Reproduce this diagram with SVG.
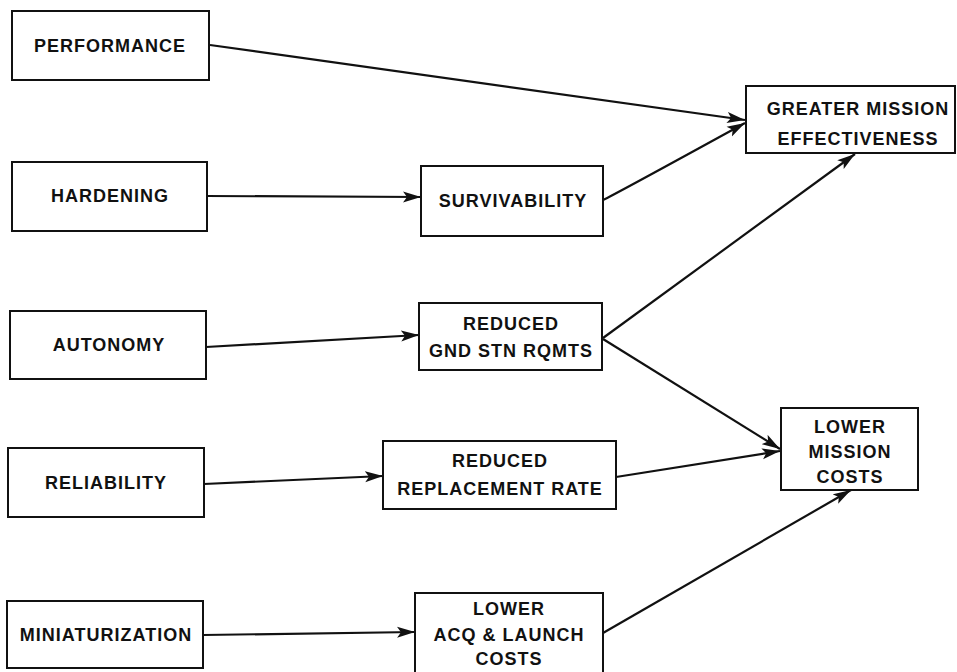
<svg xmlns="http://www.w3.org/2000/svg" width="957" height="672" viewBox="0 0 957 672">
<style>
  .box { fill: #ffffff; stroke: #111111; stroke-width: 2; }
  .lbl { font-family: "Liberation Sans", Arial, sans-serif; font-weight: bold; font-size: 18px; letter-spacing: 1px; fill: #111111; text-anchor: middle; }
  .conn { fill: none; stroke: #111111; stroke-width: 2.2; }
</style>
<defs>
  <marker id="arrow" markerUnits="userSpaceOnUse" markerWidth="20" markerHeight="12" refX="18" refY="6" orient="auto">
    <path d="M0,0.5 L18,6 L0,11.5 L4,6 z" fill="#111111"/>
  </marker>
</defs>
<rect width="957" height="672" fill="#ffffff"/>

<g id="connectors">
  <line class="conn" x1="210" y1="45" x2="745" y2="120" marker-end="url(#arrow)"/>
  <line class="conn" x1="207" y1="196" x2="421" y2="197" marker-end="url(#arrow)"/>
  <path class="conn" d="M603,200 Q612,196 745,123" marker-end="url(#arrow)"/>
  <line class="conn" x1="206" y1="347" x2="419" y2="335" marker-end="url(#arrow)"/>
  <line class="conn" x1="603" y1="338" x2="855" y2="154" marker-end="url(#arrow)"/>
  <line class="conn" x1="603" y1="339" x2="780" y2="449" marker-end="url(#arrow)"/>
  <line class="conn" x1="204" y1="484" x2="383" y2="476" marker-end="url(#arrow)"/>
  <line class="conn" x1="616" y1="477" x2="780" y2="451" marker-end="url(#arrow)"/>
  <line class="conn" x1="203" y1="635" x2="415" y2="632" marker-end="url(#arrow)"/>
  <line class="conn" x1="603" y1="633" x2="851" y2="490" marker-end="url(#arrow)"/>
</g>

<g id="performance">
  <rect class="box" x="12" y="11" width="197" height="69"/>
  <text class="lbl" x="110" y="52">PERFORMANCE</text>
</g>
<g id="hardening">
  <rect class="box" x="12" y="162" width="195" height="69"/>
  <text class="lbl" x="110" y="202">HARDENING</text>
</g>
<g id="autonomy">
  <rect class="box" x="10" y="311" width="196" height="68"/>
  <text class="lbl" x="109" y="351">AUTONOMY</text>
</g>
<g id="reliability">
  <rect class="box" x="8" y="448" width="196" height="69"/>
  <text class="lbl" x="106" y="489">RELIABILITY</text>
</g>
<g id="miniaturization">
  <rect class="box" x="7" y="601" width="196" height="67"/>
  <text class="lbl" x="106" y="641">MINIATURIZATION</text>
</g>
<g id="survivability">
  <rect class="box" x="421" y="166" width="182" height="70"/>
  <text class="lbl" x="513" y="207">SURVIVABILITY</text>
</g>
<g id="reduced-gnd">
  <rect class="box" x="419" y="303" width="183" height="67"/>
  <text class="lbl" x="511" y="330">REDUCED</text>
  <text class="lbl" x="511" y="357">GND STN RQMTS</text>
</g>
<g id="reduced-replacement">
  <rect class="box" x="383" y="441" width="233" height="68"/>
  <text class="lbl" x="500" y="467">REDUCED</text>
  <text class="lbl" x="500" y="495">REPLACEMENT RATE</text>
</g>
<g id="lower-acq">
  <rect class="box" x="415" y="593" width="188" height="81"/>
  <text class="lbl" x="509" y="615">LOWER</text>
  <text class="lbl" x="509" y="641">ACQ &amp; LAUNCH</text>
  <text class="lbl" x="509" y="665">COSTS</text>
</g>
<g id="greater-mission">
  <rect class="box" x="746" y="86" width="209" height="67"/>
  <text class="lbl" x="858" y="115">GREATER MISSION</text>
  <text class="lbl" x="858" y="145">EFFECTIVENESS</text>
</g>
<g id="lower-mission">
  <rect class="box" x="781" y="408" width="137" height="82"/>
  <text class="lbl" x="850" y="433">LOWER</text>
  <text class="lbl" x="850" y="458">MISSION</text>
  <text class="lbl" x="850" y="483">COSTS</text>
</g>
</svg>
